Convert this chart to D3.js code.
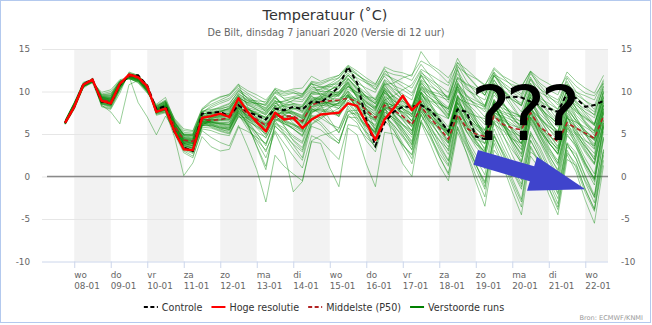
<!DOCTYPE html>
<html><head><meta charset="utf-8">
<script src="https://cdn.jsdelivr.net/npm/d3@7"></script>
<style>
body{margin:0;background:#fff}
svg{display:block}
text{font-family:"DejaVu Sans",sans-serif}
</style>
</head><body>
<svg id="c" width="652" height="325"></svg>
<script>
// ---------- DATA ----------
const titleText = "Temperatuur (˚C)";
const subtitleText = "De Bilt, dinsdag 7 januari 2020 (Versie di 12 uur)";
const creditText = "Bron: ECMWF/KNMI";
const dayNames = ["wo","do","vr","za","zo","ma","di","wo","do","vr","za","zo","ma","di","wo"];
const dayDates = ["08-01","09-01","10-01","11-01","12-01","13-01","14-01","15-01","16-01","17-01","18-01","19-01","20-01","21-01","22-01"];
const yTicks = [-10,-5,0,5,10,15];
const firstStepHours = 6;   // first value 6 h after run start (07-01 12 UTC)
const stepHours = 6;

const controle = [6.3,8.2,10.9,11.4, 8.8,8.6,10.8,11.9, 11.9,10.7,7.9,8.3, 5.2,3.4,3.0,7.4, 7.5,7.6,7.1,8.4, 7.6,7.2,6.7,8.0, 7.8,8.2,7.9,8.8, 8.7,9.5,10.6,12.9, 11.0,6.7,3.6,6.3, 7.6,8.2,8.2,8.4, 7.8,6.7,5.3,7.9, 7.6,4.7,4.4,8.4, 9.2,9.4,9.3,8.8, 8.4,8.0,7.6,9.8, 9.2,8.2,8.4,8.9];
const hogeResolutie = [6.3,8.2,10.8,11.4, 8.9,8.6,10.9,12.0, 11.7,10.6,7.6,8.0, 5.3,3.2,3.1,6.9, 7.1,7.4,7.0,9.2, 7.6,6.4,5.3,7.5, 6.7,6.9,5.7,6.7, 7.3,7.4,7.5,8.6, 8.3,6.3,4.3,6.7, 8.0,9.5,7.8,8.9];
const middelste = [6.4,8.3,10.8,11.3, 9.0,8.8,10.8,11.8, 11.6,10.4,7.8,8.3, 5.9,4.3,4.1,6.7, 6.6,6.7,6.9,8.4, 7.3,6.7,6.0,7.0, 7.1,7.1,6.5,8.4, 8.8,8.9,9.0,9.2, 8.8,7.8,6.9,8.4, 7.8,7.1,6.1,8.2, 6.9,5.7,4.4,7.3, 5.7,5.0,4.7,7.1, 6.1,5.7,5.5,7.5, 5.9,5.0,4.1,6.3, 5.7,5.1,4.5,7.1];

const verstoorde = [
[6.3,8.2,10.9,11.4, 8.8,8.6,10.7,11.9, 11.8,10.6,7.8,8.3, 5.7,3.8,3.4,7.0, 7.3,7.4,7.2,8.6, 7.9,7.5,6.9,8.2, 8.0,8.3,7.8,9.0, 9.2,10.1,11.0,12.2, 11.0,8.0,5.5,7.9, 8.4,8.9,8.2,10.5, 9.8,9.4,9.0,11.6, 10.8,10.2,9.6,12.0, 11.4,10.8,10.5,12.4, 11.5,10.9,10.2,11.8, 10.6,9.8,9.5,11.0],
[6.5,8.5,10.6,11.1, 9.3,9.1,11.0,11.7, 11.4,10.2,8.0,8.5, 6.1,4.5,4.3,6.9, 6.2,5.8,5.5,7.6, 6.4,5.0,3.8,6.3, 5.7,4.6,3.9,6.8, 6.1,4.8,3.9,7.2, 6.3,4.2,2.9,6.6, 5.4,3.7,2.5,6.4, 4.8,2.7,1.2,5.9, 3.6,1.4,-0.6,4.8, 2.9,0.8,-1.2,4.2, 2.3,0.3,-1.9,3.8, 2.1,-0.5,-2.4,3.1],
[6.2,8.0,10.8,11.5, 8.5,8.3,10.5,12.1, 11.8,10.7,7.5,7.9, 5.4,3.4,2.9,6.2, 7.0,7.6,8.1,9.4, 8.5,7.9,7.2,8.6, 8.9,9.3,9.0,10.4, 10.5,10.8,10.9,11.6, 10.2,9.4,8.6,10.1, 9.0,8.1,7.0,9.3, 7.5,6.1,4.7,8.8, 6.0,4.2,2.8,7.5, 6.9,6.2,5.4,8.1, 5.8,4.0,2.7,6.8, 6.4,5.8,5.1,8.4],
[6.6,8.7,11.1,11.4, 9.6,9.8,11.2,11.5, 11.2,10.0,8.3,8.8, 6.3,4.9,4.8,7.5, 8.3,8.8,9.2,10.4, 9.1,8.4,7.9,9.3, 8.2,7.5,6.8,8.0, 7.4,6.3,5.2,7.7, 7.8,7.1,6.6,9.0, 9.5,10.2,10.8,12.6, 12.0,11.3,10.7,13.1, 11.2,9.8,8.3,11.4, 9.6,8.1,6.7,10.2, 8.8,7.4,6.0,9.6, 8.0,6.5,5.3,9.4],
[6.4,8.4,10.4,11.1, 9.9,10.2,11.4,11.6, 11.0,9.8,8.5,9.3, 6.6,5.2,5.1,7.8, 8.8,9.3,9.7,10.9, 8.2,6.9,5.4,8.4, 6.0,4.2,3.1,6.9, 7.5,8.2,8.6,10.1, 8.7,7.0,5.9,8.8, 7.2,6.0,4.9,8.1, 6.3,4.9,3.5,7.4, 5.2,3.8,3.0,7.8, 7.4,6.9,6.5,8.9, 6.7,5.0,3.6,7.3, 5.9,4.3,3.2,8.0],
[6.1,7.9,10.5,11.6, 8.2,7.9,9.8,12.3, 11.9,10.8,7.2,7.5, 5.0,2.8,2.2,5.6, 5.4,5.0,4.8,7.2, 6.0,5.2,4.6,6.5, 7.2,7.9,8.3,9.8, 10.0,10.5,11.2,12.6, 12.0,11.2,10.3,11.8, 10.6,9.3,8.0,11.2, 9.4,8.1,6.8,10.3, 8.7,7.6,6.4,10.0, 8.2,6.9,5.8,9.7, 7.9,6.6,5.2,8.9, 6.9,5.4,4.2,8.6],
[6.3,8.3,10.7,11.2, 9.0,8.7,10.6,11.8, 8.7,7.0,4.9,7.1, 5.5,3.9,3.6,6.5, 5.8,5.4,5.1,7.0, 6.9,6.3,5.8,7.9, 8.4,9.0,9.5,11.0, 9.5,8.1,7.0,9.6, 8.3,6.5,5.0,8.0, 6.8,5.3,3.8,7.7, 5.9,4.3,2.6,7.0, 4.5,2.6,0.9,6.2, 5.4,4.4,3.9,7.9, 6.8,5.9,5.2,8.6, 7.6,6.9,6.2,9.2],
[6.4,8.3,10.6,11.0, 8.4,7.6,6.2,10.8, 11.3,10.1,7.6,8.0, 5.9,4.4,4.2,6.6, 6.4,6.1,5.9,8.0, 7.1,6.4,5.6,7.4, 6.6,6.1,5.3,7.8, 8.3,8.6,8.9,10.3, 9.6,8.4,7.5,9.9, 8.9,8.0,7.3,10.6, 10.0,9.7,9.3,12.1, 10.4,9.1,8.0,11.0, 10.1,9.3,8.6,11.5, 10.3,9.6,9.0,11.2, 9.3,8.4,7.6,10.3],
[6.5,8.6,10.9,11.3, 9.2,9.0,10.9,11.7, 11.5,10.3,7.9,8.2, 5.2,3.0,2.4,5.4, 4.6,4.0,3.6,6.0, 3.5,0.8,-3.0,2.5, 1.2,0.3,-0.5,4.2, 4.8,5.1,5.6,8.0, 6.6,5.2,4.4,7.6, 6.9,6.1,5.4,8.8, 7.0,5.6,4.1,8.2, 6.1,4.9,3.8,7.4, 6.2,5.0,3.9,7.0, 5.0,3.1,1.6,5.7, 4.6,2.8,1.4,6.3],
[6.2,8.1,10.6,11.2, 8.7,8.4,10.4,11.9, 11.6,10.4,7.4,7.6, 4.6,0.1,1.6,4.7, 3.5,3.0,3.2,5.8, 5.3,4.6,3.9,6.6, 5.1,3.8,2.9,6.2, 7.0,7.4,7.7,9.4, 9.1,8.3,7.7,10.4, 8.6,7.1,5.8,9.7, 8.3,6.9,5.4,9.1, 7.1,5.7,4.6,8.5, 6.0,4.5,3.2,7.6, 5.5,4.0,2.6,7.0, 5.0,3.5,2.0,6.5],
[6.4,8.4,10.8,11.4, 9.1,8.9,10.9,11.9, 11.7,10.5,7.9,8.4, 6.0,4.3,4.1,7.2, 7.8,8.2,8.6,10.0, 9.3,8.8,8.3,9.8, 9.2,9.4,9.6,11.1, 10.8,11.3,11.6,12.8, 11.4,10.1,9.0,11.3, 10.1,8.9,7.7,11.9, 11.2,10.3,9.2,12.7, 9.1,6.7,4.5,8.9, 6.2,3.9,1.8,6.6, 4.4,2.2,0.1,5.4, 3.9,1.6,-0.3,5.8],
[6.3,8.3,10.7,11.3, 8.9,8.8,10.7,11.8, 11.6,10.4,7.8,8.2, 5.9,4.2,4.0,6.8, 6.7,6.6,6.6,8.2, 7.3,6.7,6.1,7.1, 7.0,7.0,6.4,8.5, 8.9,9.1,9.2,9.6, 8.6,7.5,6.7,8.1, 7.5,6.9,6.0,7.9, 6.6,5.5,4.4,7.1, 5.6,4.8,4.5,6.9, 6.6,6.0,5.7,7.4, 5.8,4.8,4.0,6.1, 5.7,4.9,4.4,7.0],
[6.5,8.5,10.9,11.2, 9.4,9.5,11.1,11.6, 11.3,10.2,8.1,8.7, 6.4,4.8,4.6,7.3, 7.6,7.9,8.3,9.6, 7.6,6.2,4.8,7.3, 5.9,4.8,4.1,7.5, 8.1,8.9,9.6,11.4, 10.3,9.0,8.1,10.8, 11.0,11.6,12.0,13.6, 13.0,12.1,11.0,13.9, 12.0,10.8,9.5,12.3, 10.9,9.5,8.3,11.4, 9.7,8.1,6.6,10.4, 8.9,7.5,6.2,10.1],
[6.2,8.2,10.8,11.5, 8.6,8.2,10.3,12.0, 11.9,10.6,7.6,7.8, 5.3,3.5,3.2,6.1, 6.0,5.7,5.6,7.8, 6.8,6.0,5.0,7.2, 7.7,8.1,7.7,9.6, 9.8,9.3,8.7,10.0, 7.6,5.3,3.4,7.2, 6.1,4.6,3.2,7.4, 5.4,3.5,1.8,6.8, 4.1,2.1,0.2,5.6, 3.3,1.2,-0.9,4.9, 2.6,0.2,-2.1,3.9, 2.0,-0.7,-3.1,3.2],
[6.4,8.5,10.9,11.3, 9.2,9.1,11.1,11.8, 11.5,10.3,7.7,8.1, 5.8,4.0,3.8,6.4, 6.9,7.2,7.4,9.0, 8.0,7.4,6.9,8.3, 7.7,7.4,6.9,8.8, 9.5,10.2,10.7,12.0, 10.7,9.8,9.0,10.9, 9.2,7.9,6.5,9.9, 8.0,6.4,4.9,9.0, 7.1,5.9,4.9,8.6, 8.0,7.5,7.1,10.4, 9.2,8.6,7.9,10.9, 9.9,9.5,9.0,11.4],
[6.3,8.2,10.6,11.1, 9.5,9.6,11.2,11.6, 11.3,10.1,8.2,8.9, 6.5,5.0,4.9,7.6, 8.1,8.6,9.0,10.2, 9.6,8.6,7.6,9.0, 7.3,6.3,5.4,7.9, 7.9,7.8,7.3,9.0, 8.0,6.2,4.6,7.9, 6.5,5.2,3.7,8.4, 7.6,7.3,6.8,10.0, 9.1,8.6,8.2,10.9, 8.7,7.1,5.8,9.3, 7.1,5.6,4.2,8.0, 6.6,5.1,3.8,8.3],
[6.6,8.6,10.9,11.4, 9.1,8.8,10.8,11.9, 11.7,10.5,7.9,8.3, 6.0,4.2,3.9,6.3, 6.3,6.2,6.0,7.7, 6.2,4.7,2.9,5.9, 5.0,3.7,2.2,6.6, 7.2,8.1,8.7,10.6, 9.9,9.4,9.2,11.4, 10.7,10.2,9.5,11.8, 10.3,8.9,7.6,10.6, 7.5,5.1,3.1,7.3, 4.9,2.5,0.4,5.3, 3.1,0.8,-1.4,4.0, 2.8,0.1,-2.2,4.4],
[6.2,8.1,10.7,11.4, 8.8,8.5,10.6,12.0, 11.8,10.7,7.7,8.0, 5.6,3.7,3.3,6.0, 6.6,6.9,7.0,8.8, 7.9,7.2,6.6,8.0, 7.5,7.6,7.2,9.2, 9.4,9.8,10.0,11.1, 9.8,8.7,7.9,9.8, 8.1,6.7,5.4,8.6, 6.7,4.8,3.0,7.8, 5.3,3.5,2.1,6.5, 4.8,3.1,1.7,6.2, 4.3,2.5,0.8,5.8, 4.9,3.5,2.3,7.6],
[6.4,8.4,10.6,11.2, 9.3,9.2,11.0,11.7, 11.4,10.3,8.0,8.6, 6.2,4.7,4.5,7.0, 7.2,7.4,7.6,9.1, 8.4,7.9,7.5,8.9, 8.6,8.9,8.8,10.2, 10.2,10.7,11.3,12.4, 11.6,11.0,10.6,12.2, 11.3,10.6,9.8,12.0, 10.2,8.6,7.2,10.9, 9.5,8.9,8.4,11.3, 10.0,9.1,8.3,11.0, 8.5,6.6,5.1,9.4, 8.1,7.0,6.1,9.8],
[6.3,8.3,10.8,11.3, 8.9,8.6,10.6,11.8, 11.6,10.4,7.6,7.9, 5.5,3.6,3.3,6.3, 6.1,5.6,5.2,7.3, 5.6,4.3,3.1,5.4, 3.9,2.4,1.0,4.8, 4.3,3.1,2.0,6.1, 5.9,4.6,3.6,7.1, 6.0,4.8,3.5,7.6, 6.4,5.8,5.3,8.7, 7.6,7.1,6.8,9.6, 8.4,7.6,7.0,10.1, 8.9,8.2,7.6,10.2, 8.7,7.9,7.3,10.6],
[6.5,8.6,10.8,11.2, 9.7,10.0,11.3,11.5, 11.1,9.9,8.4,9.0, 6.8,5.6,5.4,8.0, 8.9,9.4,9.6,10.6, 9.8,9.2,8.6,10.0, 9.7,9.9,9.4,10.9, 10.6,10.1,9.4,11.1, 9.4,8.0,6.9,9.9, 8.7,7.4,6.2,9.8, 8.4,6.6,5.1,9.4, 6.6,4.7,3.3,7.4, 5.6,3.5,1.5,6.4, 4.1,1.9,-0.3,5.0, 3.4,1.0,-1.0,5.3],
[6.3,8.3,10.9,11.4, 8.7,8.4,10.5,11.9, 11.7,10.6,7.5,7.8, 5.1,3.1,2.7,5.9, 6.5,6.7,6.8,8.5, 6.9,5.7,4.5,6.8, 6.4,6.0,5.5,7.6, 8.0,8.4,8.6,9.5, 8.1,6.4,5.1,8.2, 7.8,7.6,7.2,10.0, 8.6,7.1,5.8,9.6, 7.8,6.2,5.0,8.8, 7.0,5.6,4.4,8.4, 6.0,4.4,3.2,7.5, 6.2,4.9,3.6,8.0],
[6.4,8.4,10.7,11.3, 9.0,8.9,10.9,11.8, 11.6,10.4,7.8,8.2, 5.7,4.0,3.9,6.6, 6.4,6.2,6.2,8.1, 7.6,7.3,6.8,8.4, 8.2,8.5,8.0,9.9, 10.3,10.9,11.6,13.0, 12.1,11.0,10.2,12.4, 12.0,11.8,11.3,13.2, 11.8,10.5,9.0,12.5, 10.6,9.3,8.2,11.8, 11.0,10.2,9.5,12.1, 10.8,9.5,8.4,11.6, 10.0,8.9,7.9,10.9],
[6.2,8.0,10.5,11.4, 8.3,8.0,10.1,12.2, 11.9,10.8,7.3,7.6, 5.2,3.3,2.8,5.8, 5.7,5.3,5.0,7.1, 6.3,3.5,0.8,6.2, 5.4,4.3,3.4,6.1, 6.8,7.5,8.0,9.7, 9.0,7.6,6.4,9.0, 7.3,5.6,4.0,8.3, 6.0,3.8,1.9,7.1, 4.2,1.5,-1.2,5.0, 2.5,-0.2,-2.7,3.6, 1.6,-1.3,-3.6,2.8, 1.5,-1.5,-3.9,2.5],
[6.5,8.5,10.8,11.2, 9.4,9.3,11.1,11.6, 11.3,10.1,8.1,8.7, 6.3,4.8,4.7,7.4, 7.4,7.7,8.0,9.3, 8.7,8.3,7.8,9.2, 8.5,8.4,7.6,9.4, 9.0,8.6,8.0,9.3, 8.3,7.4,6.8,9.1, 8.2,7.5,6.6,9.2, 7.3,6.3,5.2,8.6, 6.9,6.0,5.4,8.1, 7.6,7.2,7.0,9.3, 8.0,7.1,6.3,9.0, 7.2,6.1,5.3,8.9],
[6.3,8.2,10.7,11.3, 8.8,8.7,10.7,11.8, 11.6,10.5,7.7,8.0, 5.6,3.9,3.7,6.5, 6.3,6.0,5.8,7.8, 7.0,6.6,6.2,7.6, 6.9,6.6,6.0,8.2, 8.6,8.5,8.3,9.4, 8.8,8.0,7.3,9.3, 7.0,5.5,4.2,8.0, 5.4,3.2,1.4,6.5, 3.8,1.4,-0.8,4.7, 2.7,0.6,-1.5,4.3, 2.2,-0.4,-2.6,3.1, 1.0,-1.9,-4.1,1.9],
[6.4,8.4,10.9,11.4, 9.0,8.8,10.8,11.8, 11.6,10.3,7.8,8.3, 5.9,4.1,3.9,6.9, 7.0,7.3,7.4,8.7, 7.8,7.4,7.0,7.8, 6.5,5.6,4.8,7.4, 8.3,9.2,9.9,11.5, 10.5,9.4,8.5,11.0, 9.9,9.1,8.3,11.4, 10.6,10.0,9.4,12.9, 12.1,11.5,10.7,12.8, 11.8,11.2,10.6,12.4, 11.0,10.2,9.6,12.3, 11.2,10.4,9.8,11.9],
[6.6,8.7,11.0,11.2, 9.5,9.5,11.2,11.5, 11.2,10.0,8.2,8.8, 6.4,5.0,5.0,7.7, 7.9,8.0,8.2,9.8, 8.9,8.5,8.1,9.5, 8.0,7.2,6.3,8.7, 9.1,9.5,9.7,10.8, 9.7,8.3,7.2,9.5, 8.5,7.9,7.0,9.9, 8.9,8.5,8.0,11.0, 9.6,8.2,7.0,10.3, 8.6,7.0,5.6,9.0, 6.9,5.0,3.4,7.9, 5.6,3.7,2.0,7.5],
[6.3,8.3,10.6,11.3, 8.9,8.6,10.6,11.9, 11.7,10.5,7.6,7.9, 5.4,3.5,3.1,6.0, 6.8,7.0,7.1,8.5, 6.6,5.1,3.6,6.7, 6.2,5.6,4.7,7.1, 6.4,5.2,4.2,7.0, 6.9,5.9,5.2,8.4, 8.1,8.3,8.1,10.3, 9.2,8.2,7.1,10.8, 8.2,6.5,5.0,8.3, 6.3,4.2,2.3,6.8, 4.8,2.6,0.6,5.6, 4.3,2.1,0.3,6.1],
[6.4,8.5,10.8,11.3, 9.2,9.0,11.0,11.8, 11.5,10.4,7.9,8.4, 6.1,4.6,4.4,7.1, 7.5,7.8,7.9,9.5, 8.9,8.6,8.4,9.9, 9.5,9.8,9.7,10.9, 10.5,10.6,10.4,11.5, 10.4,9.5,8.8,11.1, 10.3,9.7,9.0,12.2, 11.4,10.7,9.9,13.4, 12.6,11.6,10.8,12.2, 10.3,8.9,7.6,10.7, 9.1,7.6,6.4,10.0, 8.6,7.2,6.0,9.9],
[6.2,8.1,10.5,11.2, 8.5,8.1,10.2,12.0, 11.8,10.7,7.4,7.7, 5.2,3.2,2.9,6.0, 5.9,5.5,5.4,7.4, 6.5,5.9,5.3,7.3, 7.6,8.0,8.2,9.5, 8.4,6.7,5.1,7.7, 7.2,6.0,5.3,8.7, 8.3,7.6,6.5,9.4, 7.8,6.2,4.8,8.3, 6.2,4.3,2.8,7.2, 5.9,4.1,2.6,6.9, 5.1,3.3,1.9,6.6, 5.4,3.9,2.7,7.4],
[6.5,8.5,10.7,11.1, 9.6,9.7,11.2,11.6, 11.2,10.0,8.3,8.9, 6.7,5.4,5.3,7.9, 8.5,9.0,9.5,10.8, 10.1,9.6,9.0,10.3, 9.1,8.6,8.2,9.8, 9.6,9.9,10.3,11.9, 11.0,10.4,9.9,12.0, 11.5,11.0,10.4,12.4, 10.9,9.8,8.7,11.5, 10.2,9.6,9.0,11.9, 10.6,9.9,9.2,11.7, 9.5,8.3,7.2,10.1, 8.0,6.3,4.8,9.0],
[6.4,8.3,10.8,11.4, 8.9,8.7,10.8,11.9, 11.6,10.4,7.7,8.1, 5.7,3.9,3.6,6.4, 6.2,5.9,5.7,7.5, 6.1,3.6,1.2,6.0, 4.8,3.2,1.9,5.9, 5.5,4.6,3.9,7.3, 7.5,6.7,6.1,8.6, 4.0,1.5,0.0,6.5, 7.9,6.6,5.3,9.4, 8.3,7.2,6.1,9.1, 7.2,5.4,3.9,7.8, 5.6,3.5,1.5,6.5, 4.0,1.6,-0.4,4.6],
[6.3,8.4,10.9,11.3, 9.1,8.9,10.9,11.8, 11.5,10.3,7.8,8.3, 5.9,4.3,4.2,6.9, 7.1,7.2,7.3,8.9, 8.1,7.8,7.4,8.8, 8.8,9.2,9.3,10.6, 10.0,10.0,9.8,11.0, 9.2,7.8,6.6,9.4, 7.9,6.6,5.3,9.1, 7.2,5.4,3.9,8.1, 5.8,3.9,2.4,6.4, 4.0,1.7,-0.4,5.1, 3.5,1.2,-0.9,4.8, 3.7,1.3,-0.6,6.0],
[6.5,8.6,10.9,11.3, 9.3,9.3,11.0,11.7, 11.4,10.2,8.0,8.6, 6.3,4.9,4.9,7.6, 7.7,8.1,8.5,10.1, 9.2,8.6,8.0,9.4, 8.3,8.0,7.5,9.1, 9.3,9.7,9.9,11.2, 10.1,8.8,7.8,10.3, 9.4,8.8,8.1,11.3, 10.1,9.0,8.1,11.7, 10.9,10.4,9.9,12.6, 11.7,10.6,9.7,12.3, 10.4,9.0,7.9,10.8, 9.4,8.2,7.2,10.6],
[6.2,8.1,10.6,11.4, 8.6,8.3,10.3,12.1, 11.8,10.6,7.5,7.8, 5.3,3.4,3.0,6.1, 6.7,6.8,6.7,8.2, 5.9,4.1,2.2,5.2, 2.9,-1.8,-0.6,4.1, 3.9,1.0,-1.2,5.7, 4.9,1.5,-1.2,5.2, 5.0,3.7,2.6,7.2, 5.6,4.2,3.2,7.7, 6.3,5.1,4.4,8.0, 6.8,5.7,4.9,8.6, 7.0,5.9,5.0,8.3, 6.4,5.3,4.5,8.7],
[6.4,8.4,10.8,11.3, 9.0,8.8,10.8,11.8, 11.6,10.4,7.8,8.2, 5.8,4.2,4.0,6.7, 6.6,6.4,6.4,8.3, 7.4,6.8,6.3,7.4, 7.4,7.5,7.0,8.8, 9.1,9.4,9.6,10.9, 9.3,7.1,5.4,8.5, 7.4,6.1,4.9,8.8, 7.1,5.9,4.8,8.2, 6.6,5.6,4.7,7.9, 6.0,4.2,2.7,7.0, 5.3,3.9,2.8,6.9, 5.8,5.0,4.3,7.9],
[6.3,8.2,10.7,11.2, 9.1,9.0,10.9,11.7, 11.4,10.2,7.9,8.5, 6.2,4.6,4.5,7.0, 7.3,7.6,8.0,9.7, 9.0,8.9,8.8,10.2, 9.9,10.1,9.7,11.2, 11.0,11.4,11.9,13.1, 12.4,11.6,10.9,12.7, 11.0,9.2,7.7,10.9, 8.6,6.8,5.2,9.5, 7.0,5.3,3.9,8.4, 6.4,4.6,3.1,7.7, 5.8,4.0,2.6,7.1, 4.8,3.0,1.6,6.7],
[6.5,8.5,10.9,11.4, 9.3,9.1,10.9,11.7, 11.5,10.3,7.9,8.3, 6.0,4.4,4.2,6.8, 6.9,7.0,7.1,8.8, 7.7,7.0,6.4,7.9, 7.3,7.0,6.6,8.6, 8.7,8.6,8.3,9.8, 8.5,6.9,5.6,8.6, 8.4,8.0,7.4,10.4, 9.6,8.8,7.9,11.2, 8.6,6.9,5.5,9.0, 7.8,6.5,5.5,9.6, 8.2,6.9,5.8,9.4, 7.6,6.3,5.4,9.5],
[6.3,8.3,10.8,11.3, 8.9,8.8,10.7,11.8, 11.6,10.4,7.7,8.1, 5.7,4.0,3.8,6.6, 6.8,7.1,7.5,9.2, 8.7,8.6,8.5,10.4, 10.0,10.3,10.4,11.8, 11.2,11.6,11.9,12.9, 11.9,11.3,10.8,12.9, 12.4,12.2,11.8,14.7, 13.2,12.5,11.6,13.4, 11.9,10.7,9.6,11.9, 10.2,8.4,6.8,9.9, 8.1,6.2,4.6,8.4, 6.9,5.0,3.3,7.7],
[6.4,8.4,10.7,11.2, 9.2,9.2,11.0,11.7, 11.4,10.2,8.0,8.5, 6.0,4.4,4.3,6.8, 6.5,6.3,6.1,7.9, 7.2,6.6,6.0,7.4, 6.7,6.2,5.6,7.8, 7.8,7.6,7.2,8.8, 7.5,5.9,4.5,7.4, 5.8,3.9,2.1,6.6, 4.6,2.3,0.4,5.6, 3.4,0.9,-1.5,4.3, 2.0,-0.6,-3.0,3.4, 1.4,-1.4,-3.9,2.6, 0.5,-2.8,-5.5,1.3],
[6.2,8.2,10.6,11.3, 8.6,8.4,10.5,11.9, 11.7,10.6,7.6,7.9, 5.4,3.6,3.4,6.2, 6.1,5.8,5.7,7.7, 6.8,6.2,5.5,7.1, 6.3,5.6,4.9,7.2, 6.9,6.2,5.7,8.3, 6.9,5.0,3.4,7.1, 5.5,3.4,1.5,6.3, 3.9,1.3,-0.5,5.2, 2.8,0.1,-2.4,3.9, 1.2,-1.8,-4.5,2.4, 0.9,-2.1,-4.5,2.0, 1.3,-1.5,-3.8,2.9],
[6.4,8.5,10.8,11.3, 9.1,9.0,10.9,11.8, 11.5,10.3,7.8,8.3, 5.9,4.2,4.1,6.9, 7.0,7.1,7.2,8.8, 7.5,6.7,5.9,7.6, 7.2,7.0,6.4,8.2, 8.4,8.3,8.0,9.4, 8.0,6.3,4.9,8.0, 6.8,4.9,3.1,7.3, 5.0,2.4,0.2,5.8, 2.7,-0.6,-3.5,3.1, 1.6,-1.0,-3.6,2.9, 2.0,-0.7,-3.2,3.5, 2.6,0.0,-2.5,4.6],
[6.3,8.2,10.7,11.4, 8.8,8.6,10.6,11.9, 11.7,10.5,7.7,8.0, 5.6,3.8,3.5,6.4, 6.4,6.3,6.4,8.1, 7.0,6.3,5.7,7.0, 6.5,6.1,5.7,8.0, 8.5,8.8,9.0,10.6, 9.9,9.2,8.6,10.7, 9.5,8.6,7.8,11.0, 9.9,8.7,7.3,10.5, 8.4,6.6,5.1,8.8, 7.1,5.3,3.8,8.0, 6.3,4.6,3.0,7.2, 5.3,3.2,1.5,6.3],
[6.5,8.6,10.9,11.3, 9.4,9.4,11.1,11.7, 11.3,10.1,8.1,8.7, 6.4,4.9,4.8,7.4, 7.5,7.7,7.8,9.4, 8.6,8.1,7.7,8.7, 7.8,7.6,7.1,8.9, 9.2,9.6,9.7,10.6, 9.4,8.6,8.0,10.1, 8.9,8.3,7.7,10.2, 9.2,8.6,7.9,10.6, 9.4,8.5,7.6,10.0, 8.5,7.3,6.3,9.4, 8.2,7.1,6.2,9.3, 8.4,7.6,6.9,10.0],
[6.3,8.3,10.8,11.4, 8.9,8.7,10.7,11.9, 11.7,10.5,7.6,7.9, 5.5,3.7,3.3,6.2, 6.5,6.6,6.7,8.4, 7.4,6.9,6.2,7.2, 6.8,6.7,6.2,8.3, 8.6,8.8,8.9,10.0, 8.9,7.9,7.0,8.8, 7.7,6.8,5.9,8.4, 6.4,5.0,3.9,7.0, 5.3,4.4,3.9,6.6, 5.9,5.2,4.7,7.2, 5.4,4.2,3.3,6.0, 5.1,4.2,3.6,6.7],
[6.4,8.4,10.9,11.3, 9.0,8.9,10.9,11.8, 11.6,10.4,7.8,8.2, 5.8,4.1,3.9,6.7, 6.7,6.7,6.9,8.6, 7.9,7.6,7.3,8.6, 8.3,8.6,8.4,10.0, 9.7,10.2,10.6,11.9, 10.8,9.3,8.2,10.5, 9.3,8.4,7.3,9.9, 7.6,5.7,4.0,8.1, 5.9,4.1,2.6,7.5, 7.1,6.6,6.1,8.9, 7.4,6.3,5.4,8.8, 7.8,6.8,6.0,9.3],
[6.2,8.1,10.6,11.3, 8.7,8.5,10.6,12.0, 11.8,10.6,7.5,7.8, 5.3,3.4,3.0,6.0, 6.0,5.7,5.5,7.5, 6.6,5.8,5.0,6.8, 6.2,5.8,5.2,7.7, 7.7,7.5,7.1,8.6, 7.3,5.7,4.3,7.6, 6.6,5.7,4.6,8.2, 6.9,6.1,5.5,9.2, 8.7,8.3,7.9,10.5, 9.7,9.0,8.4,10.9, 9.9,9.3,8.7,10.8, 9.6,8.9,8.3,11.2],
[6.5,8.5,10.8,11.2, 9.3,9.2,11.0,11.7, 11.4,10.2,7.9,8.4, 6.1,4.5,4.4,7.1, 7.4,7.6,7.7,9.2, 8.0,7.3,6.6,8.0, 7.6,7.3,6.8,8.7, 8.8,8.7,8.5,9.6, 8.1,6.5,5.2,8.3, 7.3,6.2,5.1,8.6, 7.4,6.1,5.0,8.6, 7.3,6.2,5.5,8.2, 6.7,5.5,4.6,8.0, 6.9,5.6,4.6,7.8, 6.6,5.4,4.5,8.4],
[6.3,8.3,10.7,11.4, 8.8,8.6,10.7,11.9, 11.7,10.5,7.7,8.0, 5.6,3.9,3.6,6.5, 6.4,6.2,6.1,8.0, 7.2,6.5,5.9,7.2, 6.9,6.8,6.3,8.5, 9.0,9.3,9.5,10.6, 9.6,8.8,8.1,10.2, 8.4,7.2,6.1,9.5, 8.8,8.0,6.9,10.2, 8.0,6.2,4.7,8.4, 6.5,4.8,3.5,7.6, 4.8,2.9,1.3,6.1, 3.5,1.4,-0.2,5.9]
];

// legend entries and annotation
const legendItems = [
  {name:"Controle", color:"#000000", dash:"4,2.5", width:2},
  {name:"Hoge resolutie", color:"#ff0000", dash:null, width:2},
  {name:"Middelste (P50)", color:"#b22222", dash:"4,2.5", width:2},
  {name:"Verstoorde runs", color:"#008000", dash:null, width:2}
];
const questionText = "???";
const questionAt = {time: Date.UTC(2020,0,19,0), value: 4.3};
const arrowFrom = {time: Date.UTC(2020,0,19,0), value: 2.25};
const arrowTo   = {time: Date.UTC(2020,0,22,0), value: -1.5};

// ---------- CHART ----------
const svg = d3.select("#c");
const W = 652, H = 325;
const plotL = 42, plotR = 608, plotT = 49, plotB = 261.5;

const x = d3.scaleUtc()
  .domain([new Date(Date.UTC(2020,0,7,2,48)), new Date(Date.UTC(2020,0,22,14,56))])
  .range([plotL, plotR]);
const y = d3.scaleLinear().domain([-10,15]).range([plotB, plotT]);

const runStart = Date.UTC(2020,0,7,12);
const timeAt = i => new Date(runStart + (firstStepHours + i*stepHours)*3600e3);

// border
svg.append("rect").attr("x",0.5).attr("y",0.5).attr("width",W-2).attr("height",H-3)
  .attr("fill","#fff").attr("stroke","#b3c9ee").attr("stroke-width",1);

// title & subtitle
svg.append("text").attr("x",325).attr("y",19.5).attr("text-anchor","middle")
  .attr("font-size",14.4).attr("fill","#333").text(titleText);
svg.append("text").attr("x",326).attr("y",36).attr("text-anchor","middle")
  .attr("font-size",9.7).attr("fill","#666").text(subtitleText);

// day bands
const days = d3.utcDay.range(new Date(Date.UTC(2020,0,8)), new Date(Date.UTC(2020,0,23)));
const bands = days.filter((d,k)=>k%2===0).map(d => [d, d3.utcDay.offset(d,1)]);
svg.append("g").selectAll("rect").data(bands).join("rect")
  .attr("x", d=>x(d[0]))
  .attr("width", d=>Math.min(x(d[1]),plotR)-x(d[0]))
  .attr("y", plotT).attr("height", plotB-plotT)
  .attr("fill","#f2f2f2");

// grid
svg.append("g").selectAll("line").data(yTicks.filter(v=>v!==-10)).join("line")
  .attr("x1",plotL).attr("x2",plotR)
  .attr("y1",d=>y(d)+0.5).attr("y2",d=>y(d)+0.5)
  .attr("stroke","#e6e6e6").attr("stroke-width",1);

// zero line
svg.append("line").attr("x1",plotL+5).attr("x2",plotR)
  .attr("y1",y(0)).attr("y2",y(0))
  .attr("stroke","#8a8a8a").attr("stroke-width",1.6);

// y axes
const fmt = d => String(d);
const yl = svg.append("g").attr("transform",`translate(${plotL},0)`)
  .call(d3.axisLeft(y).tickValues(yTicks).tickSize(0).tickPadding(12).tickFormat(fmt));
const yr = svg.append("g").attr("transform",`translate(${plotR},0)`)
  .call(d3.axisRight(y).tickValues(yTicks).tickSize(0).tickPadding(13).tickFormat(fmt));
[yl,yr].forEach(g=>{
  g.select(".domain").remove();
  g.selectAll("text").attr("font-size",8.8).attr("fill","#666")
    .attr("font-family","DejaVu Sans").attr("dy","0.33em");
});

// x axis
const xa = svg.append("g").attr("transform",`translate(0,${plotB})`)
  .call(d3.axisBottom(x).tickValues(days).tickSize(6.5).tickSizeOuter(0).tickFormat(""));
xa.select(".domain").attr("stroke","#ccd6eb").attr("d",`M${plotL},0.5H${plotR}`);
xa.selectAll(".tick line").attr("stroke","#ccd6eb");
const lab = svg.append("g").selectAll("text").data(days).join("text")
  .attr("x", d=>x(d)).attr("font-size",8.8).attr("fill","#666");
lab.append("tspan").attr("x",d=>x(d)).attr("y",277.5).text((d,k)=>dayNames[k]);
lab.append("tspan").attr("x",d=>x(d)).attr("y",289).text((d,k)=>dayDates[k]);

// series
const line = d3.line().x((d,i)=>x(timeAt(i))).y(d=>y(d));
svg.append("g").selectAll("path").data(verstoorde).join("path")
  .attr("d", line).attr("fill","none")
  .attr("stroke","#0a8a0a").attr("stroke-opacity",0.42).attr("stroke-width",1);
svg.append("path").datum(middelste).attr("d",line).attr("fill","none")
  .attr("stroke","#b22222").attr("stroke-width",1.6).attr("stroke-dasharray","4.5,3");
svg.append("path").datum(controle).attr("d",line).attr("fill","none")
  .attr("stroke","#000").attr("stroke-width",2).attr("stroke-dasharray","4.5,3");
svg.append("path").datum(hogeResolutie).attr("d",line).attr("fill","none")
  .attr("stroke","#ff0000").attr("stroke-width",2.4).attr("stroke-linejoin","round");

// annotation: arrow
(function(){
  const x0 = x(new Date(arrowFrom.time)), y0 = y(arrowFrom.value);
  const x1 = x(new Date(arrowTo.time)),   y1 = y(arrowTo.value);
  const L = Math.hypot(x1-x0, y1-y0);
  const ux = (x1-x0)/L, uy = (y1-y0)/L, nx = -uy, ny = ux;
  const sw = 7.8, hw = 17.8, hl = 55.5;
  const bx = x1 - ux*hl, by = y1 - uy*hl;
  const pts = [
    [x0 - nx*sw, y0 - ny*sw],
    [bx - nx*sw, by - ny*sw],
    [bx - nx*hw, by - ny*hw],
    [x1, y1],
    [bx + nx*hw, by + ny*hw],
    [bx + nx*sw, by + ny*sw],
    [x0 + nx*sw, y0 + ny*sw]
  ];
  svg.append("polygon").attr("points", pts.map(p=>p.join(",")).join(" "))
    .attr("fill","#3f44cc");
})();

// annotation: question marks
svg.append("text").attr("x", x(new Date(questionAt.time)) - 5).attr("y", y(questionAt.value))
  .attr("font-size",75).attr("letter-spacing","-5px").attr("fill","#000")
  .text(questionText);

// legend
const lg = svg.append("g");
let lx = 0;
legendItems.forEach(it=>{
  const g = lg.append("g").attr("transform",`translate(${lx},0)`);
  g.append("line").attr("x1",0).attr("x2",14).attr("y1",307).attr("y2",307)
    .attr("stroke",it.color).attr("stroke-width",it.width)
    .attr("stroke-dasharray",it.dash);
  const t = g.append("text").attr("x",18).attr("y",310.5).attr("font-size",9.6)
    .attr("fill","#333").text(it.name);
  lx += 18 + t.node().getComputedTextLength() + 9;
});
lx -= 9;
lg.attr("transform",`translate(${324 - lx/2},0)`);

// credits
svg.append("text").attr("x",643).attr("y",320).attr("text-anchor","end")
  .attr("font-size",6.6).attr("fill","#999").text(creditText);
</script>
</body></html>
